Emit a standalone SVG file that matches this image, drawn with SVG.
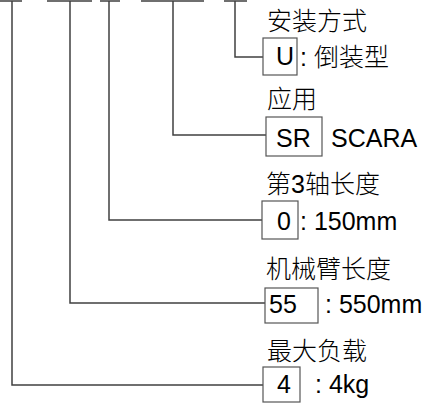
<svg xmlns="http://www.w3.org/2000/svg" width="430" height="403" viewBox="0 0 430 403">
<style>
.c{fill:none;stroke:#404040;stroke-width:1.5}
.b{fill:#fff;stroke:#555;stroke-width:1.2}
.t{font-family:"Liberation Sans","Noto Sans CJK SC",sans-serif;font-size:25px;fill:#000}
.h{font-family:"Noto Sans CJK SC",sans-serif;font-size:25px;font-weight:300;fill:#000}
</style>
<rect width="430" height="403" fill="#fff"/>
<g id="connectors">
<path class="c" d="M0,1H22M47,1H92M100,1H120M141,1H204M224,1H247"/>
<path class="c" d="M12,1V385H263"/>
<path class="c" d="M70,1V303H265"/>
<path class="c" d="M109,1V220H262"/>
<path class="c" d="M173,1V135H266"/>
<path class="c" d="M235,1V57H263"/>
</g>
<g id="mount">
<text class="h" x="267" y="30">安装方式</text>
<rect class="b" x="263" y="38" width="34" height="37"/>
<text class="t" x="276" y="65">U</text>
<text class="t" x="300" y="66">: <tspan style="font-family:'Noto Sans CJK SC',sans-serif;font-weight:300">倒装型</tspan></text>
</g>
<g id="application">
<text class="h" x="267" y="108">应用</text>
<rect class="b" x="266" y="117" width="56" height="39"/>
<text class="t" x="276" y="147">SR</text>
<text class="t" x="331" y="147">SCARA</text>
</g>
<g id="axis3">
<text class="h" x="266" y="193">第<tspan style="font-family:'Liberation Sans',sans-serif;font-weight:400">3</tspan>轴长度</text>
<rect class="b" x="262" y="201" width="36" height="38"/>
<text class="t" x="277" y="230">0</text>
<text class="t" x="300" y="230">: 150mm</text>
</g>
<g id="arm">
<text class="h" x="266" y="278">机械臂长度</text>
<rect class="b" x="265" y="288" width="53" height="35"/>
<text class="t" x="269" y="313">55</text>
<text class="t" x="325" y="313">: 550mm</text>
</g>
<g id="payload">
<text class="h" x="267" y="360">最大负载</text>
<rect class="b" x="263" y="367" width="37" height="35"/>
<text class="t" x="277" y="393">4</text>
<text class="t" x="315" y="393">: 4kg</text>
</g>
</svg>
